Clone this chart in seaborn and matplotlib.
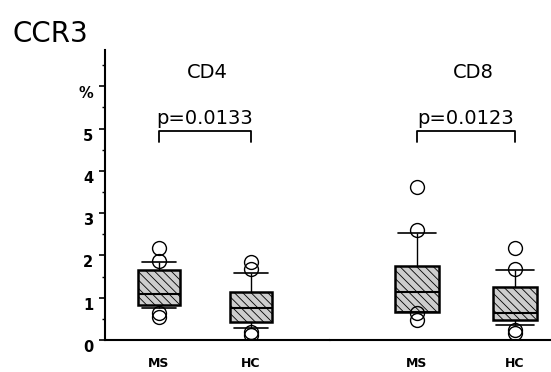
import matplotlib
matplotlib.use("Agg")
import matplotlib.pyplot as plt
import matplotlib.transforms as mtransforms
from matplotlib.ticker import FixedLocator, MultipleLocator
import numpy as np
import pandas as pd
import seaborn as sns

# Groups and per-group CCR3+ percentages
groups = ["MS", "HC"]
cd4_ms = [0.55, 0.63, 0.75, 0.78, 0.80, 0.83, 0.88, 0.94, 0.99, 1.04, 1.08,
          1.18, 1.30, 1.42, 1.55, 1.65, 1.72, 1.79, 1.85, 1.88, 2.17]
cd4_hc = [0.12, 0.20, 0.29, 0.33, 0.38, 0.43, 0.50, 0.57, 0.63, 0.69, 0.75,
          0.82, 0.90, 0.98, 1.06, 1.14, 1.28, 1.43, 1.58, 1.67, 1.85]
cd8_ms = [0.47, 0.63, 0.66, 0.66, 0.67, 0.67, 0.75, 0.85, 0.95, 1.05, 1.13,
          1.25, 1.38, 1.50, 1.63, 1.75, 1.98, 2.25, 2.52, 2.60, 3.62]
cd8_hc = [0.16, 0.24, 0.35, 0.39, 0.43, 0.47, 0.51, 0.54, 0.57, 0.60, 0.63,
          0.75, 0.88, 1.01, 1.14, 1.26, 1.39, 1.52, 1.65, 1.68, 2.17]
panel_titles = ["CD4", "CD8"]
p_labels = ["p=0.0133", "p=0.0123"]
ytick_values = [0, 1, 2, 3, 4, 5, 6]
ytick_labels = ["0", "1", "2", "3", "4", "5", "%"]

sns.set_theme(style="ticks")
plt.rcParams["font.family"] = ["DejaVu Sans"]
plt.rcParams.update({
    "text.color": "black",
    "axes.edgecolor": "black",
    "axes.labelcolor": "black",
    "xtick.color": "black",
    "ytick.color": "black",
    "hatch.linewidth": 0.6,
})

W, H = 551, 372
fig = plt.figure(figsize=(W / 100, H / 100), dpi=100)
ax1 = fig.add_axes([105 / W, 32 / H, 225 / W, 290 / H])
ax2 = fig.add_axes([330 / W, 32 / H, 220 / W, 290 / H])


def panel_frame(ms_vals, hc_vals):
    return pd.DataFrame({
        "group": [groups[0]] * len(ms_vals) + [groups[1]] * len(hc_vals),
        "value": list(ms_vals) + list(hc_vals),
    })


panels = [
    (ax1, panel_frame(cd4_ms, cd4_hc), (-0.587, 1.859), 0.52),
    (ax2, panel_frame(cd8_ms, cd8_hc), (-0.888, 1.357), 0.57),
]

box_width = 0.45
cap_half = 0.19

for i, (ax, df, xlim, title_x) in enumerate(panels):
    sns.boxplot(
        data=df, x="group", y="value", order=groups, ax=ax,
        whis=(10, 90), width=box_width, color="#cdcdcd", linecolor="black",
        linewidth=1.0, fliersize=10,
        flierprops=dict(marker="o", markerfacecolor="none",
                        markeredgecolor="black", markeredgewidth=1.0),
        boxprops=dict(linewidth=1.8),
        medianprops=dict(linewidth=1.5, color="black"),
        whiskerprops=dict(linewidth=1.0),
        capprops=dict(linewidth=1.2),
    )
    for patch in ax.patches:
        patch.set_hatch("\\\\\\\\")

    # Widen the whisker caps to nearly the box width
    for line in ax.lines:
        xd = np.asarray(line.get_xdata(), dtype=float)
        yd = np.asarray(line.get_ydata(), dtype=float)
        if (len(xd) == 2 and yd[0] == yd[1]
                and abs(abs(xd[1] - xd[0]) - box_width / 2) < 1e-6):
            c = xd.mean()
            line.set_xdata([c - cap_half, c + cap_half])

    ax.set_xlim(*xlim)
    ax.set_ylim(0, 6.86)
    ax.set_xlabel("")
    ax.set_ylabel("")
    ax.tick_params(axis="x", length=0, pad=12)
    for lab in ax.get_xticklabels():
        lab.set_fontsize(9)
        lab.set_fontweight("bold")
    for side in ("top", "right"):
        ax.spines[side].set_visible(False)
    ax.spines["bottom"].set_linewidth(1.5)

    # Panel header, significance bracket and p-value
    ax.text(title_x, 6.19, panel_titles[i], ha="center", va="baseline",
            fontsize=14)
    ax.plot([0, 0, 1, 1], [4.68, 4.94, 4.94, 4.68], color="black", lw=1.3,
            clip_on=False)
    ax.text(0.5, 5.1, p_labels[i], ha="center", va="baseline", fontsize=14)

# Shared y axis lives on the left panel only
ax1.spines["left"].set_linewidth(1.5)
ax1.yaxis.set_major_locator(FixedLocator(ytick_values))
ax1.set_yticklabels(ytick_labels, fontsize=10.5, fontweight="bold")
ax1.yaxis.set_minor_locator(MultipleLocator(0.5))
ax1.tick_params(axis="y", which="major", length=4.5, width=1.2, pad=4)
ax1.tick_params(axis="y", which="minor", length=2.2, width=1.0)
shift = mtransforms.ScaledTranslation(0, -6 / 100, fig.dpi_scale_trans)
for lab in ax1.get_yticklabels():
    lab.set_transform(lab.get_transform() + shift)

ax2.spines["left"].set_visible(False)
ax2.tick_params(axis="y", which="both", left=False, labelleft=False)

fig.text(12 / W, 1 - 42 / H, "CCR3", fontsize=20, va="baseline")

fig.savefig("out.png", dpi=100)
